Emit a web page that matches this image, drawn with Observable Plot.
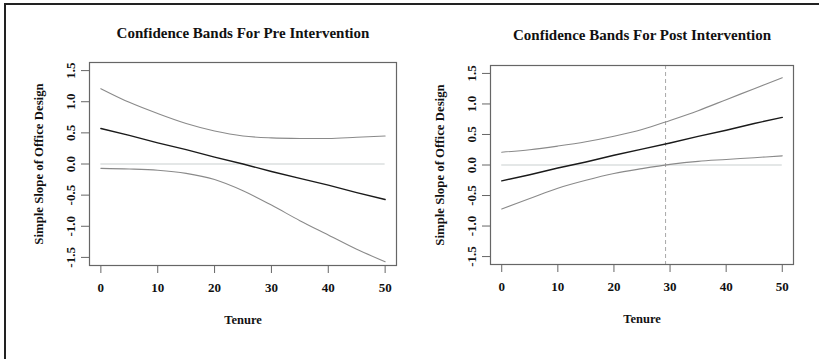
<!DOCTYPE html>
<html>
<head>
<meta charset="utf-8">
<script src="https://cdn.jsdelivr.net/npm/d3@7"></script>
<script src="https://cdn.jsdelivr.net/npm/@observablehq/plot@0.6"></script>
<style>
  html, body { margin: 0; padding: 0; background: #fff; }
  #page { position: relative; width: 819px; height: 359px; background: #fff; overflow: hidden; }
  #border { position: absolute; left: 4px; top: 3px; right: -2px; bottom: -2px;
            border-left: 2px solid #222; border-top: 2px solid #222; }
  .panel { position: absolute; top: 0; }
</style>
</head>
<body>
<div id="page"><div id="border"></div></div>
<script>
// ---- data ----
const tenure = [0, 5, 10, 15, 20, 25, 30, 35, 40, 45, 50];

const preFit   = [0.57, 0.46, 0.34, 0.23, 0.11, 0.00, -0.12, -0.23, -0.34, -0.46, -0.57];
const preUpper = [1.21, 0.99, 0.81, 0.65, 0.53, 0.45, 0.42, 0.41, 0.41, 0.43, 0.45];
const preLower = [-0.07, -0.08, -0.10, -0.15, -0.25, -0.43, -0.66, -0.91, -1.14, -1.37, -1.57];

const postFit   = [-0.26, -0.16, -0.05, 0.05, 0.16, 0.26, 0.36, 0.47, 0.57, 0.68, 0.78];
const postUpper = [0.21, 0.25, 0.31, 0.38, 0.47, 0.58, 0.73, 0.89, 1.07, 1.25, 1.43];
const postLower = [-0.72, -0.55, -0.38, -0.25, -0.14, -0.06, 0.01, 0.06, 0.09, 0.12, 0.15];

const postCrossing = 29.2;   // dashed vertical line

const xTicks = [0, 10, 20, 30, 40, 50];
const yTicks = [-1.5, -1.0, -0.5, 0.0, 0.5, 1.0, 1.5];

const titles = ["Confidence Bands For Pre Intervention", "Confidence Bands For Post Intervention"];
const xLabel = "Tenure";
const yLabel = "Simple Slope of Office Design";

// ---- helpers ----
const font = "'Liberation Serif', 'Times New Roman', serif";
const rows = (ys) => tenure.map((t, i) => ({t, v: ys[i]}));

function panel({title, fit, upper, lower, vline, width, mLeft, mRight, mTop, mBottom, titleDy}) {
  const marks = [
    Plot.ruleY([0], {x1: tenure[0], x2: tenure[tenure.length - 1], stroke: "#c9cfcf", strokeWidth: 1}),
  ];
  if (vline != null) {
    marks.push(Plot.ruleX([vline], {stroke: "#a8a8a8", strokeWidth: 1, strokeDasharray: "4,3"}));
  }
  marks.push(
    Plot.line(rows(upper), {x: "t", y: "v", stroke: "#8a8a8a", strokeWidth: 1.1, curve: "catmull-rom"}),
    Plot.line(rows(lower), {x: "t", y: "v", stroke: "#8a8a8a", strokeWidth: 1.1, curve: "catmull-rom"}),
    Plot.line(rows(fit), {x: "t", y: "v", stroke: "#1a1a1a", strokeWidth: 1.4}),
    Plot.frame({stroke: "#666", strokeWidth: 1.2}),
    Plot.axisX({ticks: xTicks, tickSize: 8, tickPadding: 9, stroke: "#666", fill: "#111",
                fontSize: 13, tickFormat: d => String(d), label: null}),
    Plot.axisY({ticks: yTicks, tickSize: 8, tickPadding: 7, tickRotate: -90, stroke: "#666", fill: "#111",
                fontSize: 13, tickFormat: d => d.toFixed(1), label: null}),
    Plot.text([title], {text: d => d, frameAnchor: "top", dy: titleDy, fontSize: 15, fill: "#111", lineAnchor: "middle"}),
    Plot.text([xLabel], {text: d => d, frameAnchor: "bottom", dy: 54, fontSize: 12.5, fill: "#111", lineAnchor: "middle"}),
    Plot.text([yLabel], {text: d => d, frameAnchor: "left", dx: -51, rotate: -90, fontSize: 12.8, fill: "#111",
                         textAnchor: "middle", lineAnchor: "middle"})
  );
  return Plot.plot({
    width, height: 359,
    marginLeft: mLeft, marginRight: mRight, marginTop: mTop, marginBottom: mBottom,
    x: {domain: [-2, 52], axis: null},
    y: {domain: [-1.63, 1.63], axis: null},
    style: {fontFamily: font, fontWeight: "bold", background: "transparent", overflow: "visible"},
    marks
  });
}

const page = document.getElementById("page");

const left = panel({title: titles[0], fit: preFit, upper: preUpper, lower: preLower, vline: null,
  width: 410, mLeft: 89, mRight: 14, mTop: 62, mBottom: 94, titleDy: -29});
left.classList.add("panel");
left.style.left = "0px";
page.appendChild(left);

const right = panel({title: titles[1], fit: postFit, upper: postUpper, lower: postLower, vline: postCrossing,
  width: 409, mLeft: 80, mRight: 26, mTop: 65, mBottom: 95, titleDy: -30});
right.classList.add("panel");
right.style.left = "410px";
page.appendChild(right);
</script>
</body>
</html>
